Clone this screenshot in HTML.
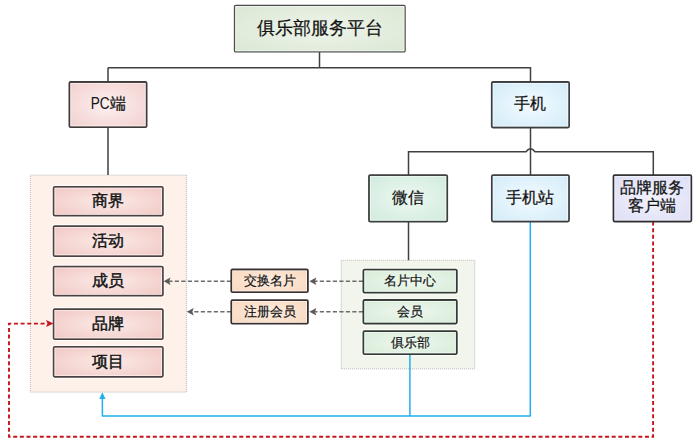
<!DOCTYPE html>
<html><head><meta charset="utf-8">
<style>
html,body{margin:0;padding:0;background:#fff;width:700px;height:443px;overflow:hidden;}
body{position:relative;font-family:"Liberation Sans",sans-serif;}
svg{position:absolute;left:0;top:0;}
.t{position:absolute;box-sizing:border-box;display:flex;align-items:center;justify-content:center;color:#141414;text-align:center;line-height:1.3;}
</style></head><body>
<svg width="700" height="443" viewBox="0 0 700 443">
<defs>
<radialGradient id="g1" cx="50%" cy="50%" r="75%"><stop offset="0" stop-color="#eef4ea"/><stop offset="1" stop-color="#d9e7d3"/></radialGradient>
<radialGradient id="pk" cx="50%" cy="50%" r="75%"><stop offset="0" stop-color="#fcf1f0"/><stop offset="1" stop-color="#f1cccb"/></radialGradient>
<radialGradient id="bl" cx="50%" cy="50%" r="75%"><stop offset="0" stop-color="#f3fbff"/><stop offset="1" stop-color="#cfeaf8"/></radialGradient>
<radialGradient id="mt" cx="50%" cy="50%" r="75%"><stop offset="0" stop-color="#eef8f2"/><stop offset="1" stop-color="#cdeadb"/></radialGradient>
<radialGradient id="lv" cx="50%" cy="50%" r="75%"><stop offset="0" stop-color="#f2f2fc"/><stop offset="1" stop-color="#dcdcf6"/></radialGradient>
<radialGradient id="it" cx="50%" cy="50%" r="75%"><stop offset="0" stop-color="#fbebe8"/><stop offset="1" stop-color="#f0c4c0"/></radialGradient>
<radialGradient id="pe" cx="50%" cy="50%" r="75%"><stop offset="0" stop-color="#fdeee2"/><stop offset="1" stop-color="#f7d4b8"/></radialGradient>
<radialGradient id="gn" cx="50%" cy="50%" r="75%"><stop offset="0" stop-color="#eef7ee"/><stop offset="1" stop-color="#d5ebd6"/></radialGradient>
</defs>
<rect x="30.4" y="175.1" width="156" height="217" fill="#fdf1e9" stroke="#b8b8b8" stroke-width="1" stroke-dasharray="1 1"/>
<rect x="341.2" y="260.3" width="133.6" height="108.6" fill="#f1f5ec" stroke="#b8b8b8" stroke-width="1" stroke-dasharray="1 1"/>
<rect x="234.5" y="5.4" width="170.60" height="46.50" rx="1.2" fill="none" stroke="#fff" stroke-opacity="0.7" stroke-width="3.8"/>
<rect x="69.4" y="82" width="77.20" height="45.20" rx="1.2" fill="none" stroke="#fff" stroke-opacity="0.7" stroke-width="4.3"/>
<rect x="491.8" y="82" width="77.30" height="45.50" rx="1.2" fill="none" stroke="#fff" stroke-opacity="0.7" stroke-width="4.3"/>
<rect x="369" y="175.05" width="78.20" height="46.55" rx="1.2" fill="none" stroke="#fff" stroke-opacity="0.7" stroke-width="4.3"/>
<rect x="491.85" y="175.05" width="77.15" height="46.45" rx="1.2" fill="none" stroke="#fff" stroke-opacity="0.7" stroke-width="4.3"/>
<rect x="613.5" y="175.05" width="77.80" height="46.45" rx="1.2" fill="none" stroke="#fff" stroke-opacity="0.7" stroke-width="4.3"/>
<rect x="53.6" y="186.8" width="109.30" height="28.80" rx="1.2" fill="none" stroke="#fff" stroke-opacity="0.7" stroke-width="4.2"/>
<rect x="53.6" y="226.1" width="109.30" height="30.00" rx="1.2" fill="none" stroke="#fff" stroke-opacity="0.7" stroke-width="4.2"/>
<rect x="53.6" y="266.6" width="109.30" height="29.00" rx="1.2" fill="none" stroke="#fff" stroke-opacity="0.7" stroke-width="4.2"/>
<rect x="53.6" y="309.2" width="109.30" height="30.00" rx="1.2" fill="none" stroke="#fff" stroke-opacity="0.7" stroke-width="4.2"/>
<rect x="53.6" y="346.8" width="109.30" height="30.00" rx="1.2" fill="none" stroke="#fff" stroke-opacity="0.7" stroke-width="4.2"/>
<rect x="231.3" y="269.5" width="76.60" height="22.70" rx="1.2" fill="none" stroke="#fff" stroke-opacity="0.7" stroke-width="4.3"/>
<rect x="231.3" y="300.1" width="76.60" height="23.50" rx="1.2" fill="none" stroke="#fff" stroke-opacity="0.7" stroke-width="4.3"/>
<rect x="363.4" y="269.6" width="93.40" height="23.00" rx="1.2" fill="none" stroke="#fff" stroke-opacity="0.7" stroke-width="4.3"/>
<rect x="363.4" y="300.0" width="93.40" height="23.50" rx="1.2" fill="none" stroke="#fff" stroke-opacity="0.7" stroke-width="4.3"/>
<rect x="363.4" y="331.2" width="93.40" height="23.00" rx="1.2" fill="none" stroke="#fff" stroke-opacity="0.7" stroke-width="4.3"/>
<g stroke="#404040" stroke-width="1.5" fill="none">
  <path d="M319.5 52 V67.7 M108 67.7 H530.5 V82 M108 67.7 V82 M108 127.2 V175"/>
  <path d="M530.5 127.5 V175"/>
  <path d="M408.5 175 V151.8 H526 Q530.5 145.5 535 151.8 H653.3 V175"/>
  <path d="M408.5 221.6 V260.3"/>
 </g>
 <g stroke="#22afec" stroke-width="1.5" fill="none" stroke-linejoin="round">
  <path d="M102.4 398 V416 H530.3 V221.5 M409.9 354.2 V416"/>
 </g>
 <path d="M102.4 392.3 L99.3 399 L105.5 399 Z" fill="#22afec"/>
 <g stroke="#c8141c" stroke-width="1.9" fill="none" stroke-dasharray="4 2.65">
  <path d="M653.1 221.5 V436.8 H9 V323.6 H47"/>
 </g>
 <path d="M53.5 323.6 L46 320.1 L47.5 323.6 L46 327.1 Z" fill="#c8141c"/>
 <g stroke="#6c6c6c" stroke-width="1.6" fill="none" stroke-dasharray="4.2 2.3">
  <path d="M363 281.3 H314 M231 281.3 H169"/>
  <path d="M363 311.7 H314 M231 311.7 H192"/>
 </g>
 <g fill="#5a5a5a">
  <path d="M163.6 281.3 L170.5 277.6 L169.2 281.3 L170.5 285 Z"/>
  <path d="M186.8 311.7 L193.7 308 L192.4 311.7 L193.7 315.4 Z"/>
  <path d="M309.4 281.3 L316.3 277.6 L315 281.3 L316.3 285 Z"/>
  <path d="M309.4 311.7 L316.3 308 L315 311.7 L316.3 315.4 Z"/>
 </g>
<rect x="234.5" y="5.4" width="170.60" height="46.50" rx="1.2" fill="url(#g1)" stroke="#4a4c4a" stroke-width="1.3"/>
<rect x="235.65" y="6.55" width="168.30" height="44.20" fill="none" stroke="#fff" stroke-opacity="0.55" stroke-width="1"/>
<rect x="69.4" y="82" width="77.20" height="45.20" rx="1.2" fill="url(#pk)" stroke="#403c3c" stroke-width="1.8"/>
<rect x="70.80" y="83.40" width="74.40" height="42.40" fill="none" stroke="#fff" stroke-opacity="0.55" stroke-width="1"/>
<rect x="491.8" y="82" width="77.30" height="45.50" rx="1.2" fill="url(#bl)" stroke="#3c3e40" stroke-width="1.8"/>
<rect x="493.20" y="83.40" width="74.50" height="42.70" fill="none" stroke="#fff" stroke-opacity="0.55" stroke-width="1"/>
<rect x="369" y="175.05" width="78.20" height="46.55" rx="1.2" fill="url(#mt)" stroke="#3a3e3c" stroke-width="1.8"/>
<rect x="370.40" y="176.45" width="75.40" height="43.75" fill="none" stroke="#fff" stroke-opacity="0.55" stroke-width="1"/>
<rect x="491.85" y="175.05" width="77.15" height="46.45" rx="1.2" fill="url(#bl)" stroke="#3c3e40" stroke-width="1.8"/>
<rect x="493.25" y="176.45" width="74.35" height="43.65" fill="none" stroke="#fff" stroke-opacity="0.55" stroke-width="1"/>
<rect x="613.5" y="175.05" width="77.80" height="46.45" rx="1.2" fill="url(#lv)" stroke="#303034" stroke-width="1.8"/>
<rect x="614.90" y="176.45" width="75.00" height="43.65" fill="none" stroke="#fff" stroke-opacity="0.55" stroke-width="1"/>
<rect x="53.6" y="186.8" width="109.30" height="28.80" rx="1.2" fill="url(#it)" stroke="#4a4242" stroke-width="1.7"/>
<rect x="54.95" y="188.15" width="106.60" height="26.10" fill="none" stroke="#fff" stroke-opacity="0.55" stroke-width="1"/>
<rect x="53.6" y="226.1" width="109.30" height="30.00" rx="1.2" fill="url(#it)" stroke="#4a4242" stroke-width="1.7"/>
<rect x="54.95" y="227.45" width="106.60" height="27.30" fill="none" stroke="#fff" stroke-opacity="0.55" stroke-width="1"/>
<rect x="53.6" y="266.6" width="109.30" height="29.00" rx="1.2" fill="url(#it)" stroke="#4a4242" stroke-width="1.7"/>
<rect x="54.95" y="267.95" width="106.60" height="26.30" fill="none" stroke="#fff" stroke-opacity="0.55" stroke-width="1"/>
<rect x="53.6" y="309.2" width="109.30" height="30.00" rx="1.2" fill="url(#it)" stroke="#4a4242" stroke-width="1.7"/>
<rect x="54.95" y="310.55" width="106.60" height="27.30" fill="none" stroke="#fff" stroke-opacity="0.55" stroke-width="1"/>
<rect x="53.6" y="346.8" width="109.30" height="30.00" rx="1.2" fill="url(#it)" stroke="#4a4242" stroke-width="1.7"/>
<rect x="54.95" y="348.15" width="106.60" height="27.30" fill="none" stroke="#fff" stroke-opacity="0.55" stroke-width="1"/>
<rect x="231.3" y="269.5" width="76.60" height="22.70" rx="1.2" fill="url(#pe)" stroke="#3a3232" stroke-width="1.8"/>
<rect x="232.70" y="270.90" width="73.80" height="19.90" fill="none" stroke="#fff" stroke-opacity="0.55" stroke-width="1"/>
<rect x="231.3" y="300.1" width="76.60" height="23.50" rx="1.2" fill="url(#pe)" stroke="#3a3232" stroke-width="1.8"/>
<rect x="232.70" y="301.50" width="73.80" height="20.70" fill="none" stroke="#fff" stroke-opacity="0.55" stroke-width="1"/>
<rect x="363.4" y="269.6" width="93.40" height="23.00" rx="1.2" fill="url(#gn)" stroke="#343a36" stroke-width="1.8"/>
<rect x="364.80" y="271.00" width="90.60" height="20.20" fill="none" stroke="#fff" stroke-opacity="0.55" stroke-width="1"/>
<rect x="363.4" y="300.0" width="93.40" height="23.50" rx="1.2" fill="url(#gn)" stroke="#343a36" stroke-width="1.8"/>
<rect x="364.80" y="301.40" width="90.60" height="20.70" fill="none" stroke="#fff" stroke-opacity="0.55" stroke-width="1"/>
<rect x="363.4" y="331.2" width="93.40" height="23.00" rx="1.2" fill="url(#gn)" stroke="#343a36" stroke-width="1.8"/>
<rect x="364.80" y="332.60" width="90.60" height="20.20" fill="none" stroke="#fff" stroke-opacity="0.55" stroke-width="1"/>
</svg>
<div class="t" style="left:234.5px;top:5.4px;width:170.60px;height:46.50px;font-size:17.5px;-webkit-text-stroke:0.25px #141414;padding:0 0 0 1px;">俱乐部服务平台</div>
<div class="t" style="left:69.4px;top:82px;width:77.20px;height:45.20px;font-size:16px;-webkit-text-stroke:0.25px #141414;"><span style="display:inline-block;transform:scaleX(0.85);margin:0 -1.7px 0 -1.5px;-webkit-text-stroke:0.1px #141414;">PC</span>端</div>
<div class="t" style="left:491.8px;top:82px;width:77.30px;height:45.50px;font-size:16px;-webkit-text-stroke:0.25px #141414;">手机</div>
<div class="t" style="left:369px;top:175.05px;width:78.20px;height:46.55px;font-size:16px;-webkit-text-stroke:0.25px #141414;">微信</div>
<div class="t" style="left:491.85px;top:175.05px;width:77.15px;height:46.45px;font-size:16px;-webkit-text-stroke:0.25px #141414;">手机站</div>
<div class="t" style="left:613.5px;top:175.05px;width:77.80px;height:46.45px;font-size:15.5px;-webkit-text-stroke:0.25px #141414;line-height:18.3px;padding-bottom:2.5px;">品牌服务<br>客户端</div>
<div class="t" style="left:53.6px;top:186.8px;width:109.30px;height:28.80px;font-size:15.5px;-webkit-text-stroke:0.45px #141414;">商界</div>
<div class="t" style="left:53.6px;top:226.1px;width:109.30px;height:30.00px;font-size:15.5px;-webkit-text-stroke:0.45px #141414;">活动</div>
<div class="t" style="left:53.6px;top:266.6px;width:109.30px;height:29.00px;font-size:15.5px;-webkit-text-stroke:0.45px #141414;">成员</div>
<div class="t" style="left:53.6px;top:309.2px;width:109.30px;height:30.00px;font-size:15.5px;-webkit-text-stroke:0.45px #141414;">品牌</div>
<div class="t" style="left:53.6px;top:346.8px;width:109.30px;height:30.00px;font-size:15.5px;-webkit-text-stroke:0.45px #141414;">项目</div>
<div class="t" style="left:231.3px;top:269.5px;width:76.60px;height:22.70px;font-size:13px;-webkit-text-stroke:0.2px #141414;padding-top:1px;">交换名片</div>
<div class="t" style="left:231.3px;top:300.1px;width:76.60px;height:23.50px;font-size:13px;-webkit-text-stroke:0.2px #141414;padding-top:1px;">注册会员</div>
<div class="t" style="left:363.4px;top:269.6px;width:93.40px;height:23.00px;font-size:13px;-webkit-text-stroke:0.2px #141414;padding-top:1px;">名片中心</div>
<div class="t" style="left:363.4px;top:300.0px;width:93.40px;height:23.50px;font-size:13px;-webkit-text-stroke:0.2px #141414;padding-top:1px;">会员</div>
<div class="t" style="left:363.4px;top:331.2px;width:93.40px;height:23.00px;font-size:13px;-webkit-text-stroke:0.2px #141414;padding-top:1px;">俱乐部</div>
</body></html>
